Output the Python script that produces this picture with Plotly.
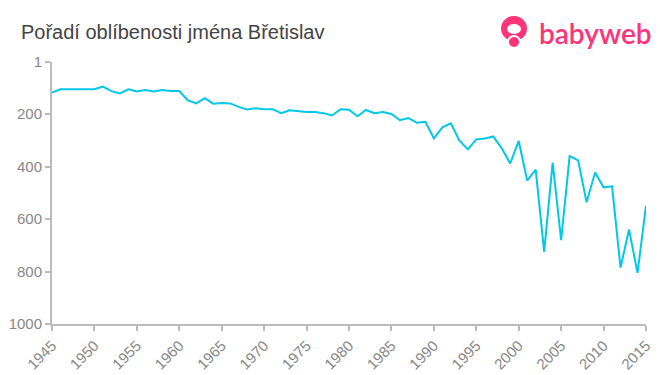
import plotly.graph_objects as go

years = list(range(1945, 2016))
ranks = [118, 105, 105, 105, 105, 105, 95, 112, 121, 105, 113, 108, 113, 108, 112, 112,
         147, 159, 139, 160, 157, 159, 172, 182, 177, 181, 181, 196, 185, 189, 192, 192,
         196, 205, 181, 183, 208, 184, 196, 192, 199, 223, 215, 233, 229, 292, 250, 235,
         300, 334, 296, 293, 285, 330, 388, 302, 453, 411, 725, 385, 680, 360, 376, 536,
         422, 479, 475, 785, 640, 805, 549]
y_ticks = [1, 200, 400, 600, 800, 1000]
x_ticks = list(range(1945, 2016, 5))
title_text = "Pořadí oblíbenosti jména Břetislav"

fig = go.Figure()
fig.add_trace(go.Scatter(x=years, y=ranks, mode="lines",
                         line=dict(color="#00c8e6", width=2), hoverinfo="x+y"))

axis_col = "#bbbbbb"
# page body has an 8px default margin; figure is sized/placed to compensate
fig.update_layout(
    width=652, height=367,
    margin=dict(l=44, r=14, t=54, b=51, autoexpand=False),
    paper_bgcolor="white", plot_bgcolor="white",
    showlegend=False,
    font=dict(family="Liberation Sans, Arial, sans-serif", color="#888888"),
    xaxis=dict(range=[1945, 2015], tickvals=x_ticks, tickangle=-45, automargin=False,
               showgrid=False, zeroline=False, showline=True, linecolor=axis_col,
               linewidth=2, ticks="outside", tickcolor=axis_col, ticklen=5, tickwidth=2,
               tickfont=dict(size=15, color="#888888")),
    yaxis=dict(range=[1000, 1], tickvals=y_ticks, showgrid=False, zeroline=False,
               automargin=False,
               showline=True, linecolor=axis_col, linewidth=2, ticks="outside",
               tickcolor=axis_col, ticklen=5, tickwidth=2,
               tickfont=dict(size=15, color="#888888")),
)

def px_x(p):
    return (p - 52) / 594

def px_y(p):
    return (324 - p) / 262

fig.add_annotation(text=title_text, xref="paper", yref="paper", x=px_x(19), y=px_y(32),
                   xanchor="left", yanchor="middle", showarrow=False,
                   font=dict(size=20, color="#444444", family="Liberation Sans, Arial, sans-serif"))

# logo
pink = "#ff3378"
fig.add_shape(type="circle", xref="paper", yref="paper", layer="above",
              x0=px_x(501), x1=px_x(527), y0=px_y(41), y1=px_y(16),
              fillcolor=pink, line=dict(width=0))
fig.add_shape(type="circle", xref="paper", yref="paper", layer="above",
              x0=px_x(507), x1=px_x(521), y0=px_y(34), y1=px_y(24),
              fillcolor="white", line=dict(width=0))
fig.add_shape(type="circle", xref="paper", yref="paper", layer="above",
              x0=px_x(508), x1=px_x(520), y0=px_y(48), y1=px_y(36),
              fillcolor=pink, line=dict(color="white", width=2))
fig.add_annotation(text="babyweb", xref="paper", yref="paper",
                   x=px_x(537), y=px_y(33), xanchor="left", yanchor="middle",
                   showarrow=False,
                   font=dict(size=28, color=pink, weight=600,
                             family="Lato, Liberation Sans, sans-serif"))

fig.write_html("out.html")
